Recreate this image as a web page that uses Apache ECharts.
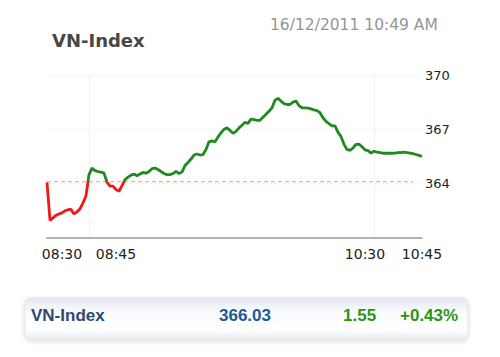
<!DOCTYPE html>
<html>
<head>
<meta charset="utf-8">
<script src="https://cdn.jsdelivr.net/npm/echarts@6/dist/echarts.min.js"></script>
<style>
html,body{margin:0;padding:0;background:#fff;}
#chart{width:500px;height:357px;}
</style>
</head>
<body>
<div id="chart"></div>
<script>
// Index values, one sample per step along the session
const values = [
  364.07, 361.97, 362.11, 362.25, 362.33, 362.39, 362.50, 362.56, 362.58, 362.33,
  362.44, 362.61, 362.94, 363.33, 364.50, 364.86, 364.72, 364.67, 364.64, 364.58,
  364.08, 363.86, 363.86, 363.67, 363.58, 363.89, 364.22, 364.36, 364.47, 364.53,
  364.44, 364.53, 364.62, 364.58, 364.67, 364.83, 364.86, 364.78, 364.67, 364.56,
  364.50, 364.50, 364.56, 364.68, 364.56, 364.64, 365.00, 365.17, 365.36, 365.58,
  365.64, 365.58, 365.61, 365.89, 366.31, 366.36, 366.31, 366.58, 366.81, 367.00,
  367.08, 366.94, 366.78, 366.89, 367.08, 367.23, 367.39, 367.33, 367.56, 367.53,
  367.50, 367.50, 367.67, 367.83, 368.00, 368.19, 368.61, 368.71, 368.56, 368.42,
  368.37, 368.37, 368.50, 368.56, 368.31, 368.18, 368.18, 368.17, 368.13, 368.07,
  368.03, 367.92, 367.64, 367.44, 367.31, 367.19, 367.19, 366.83, 366.61, 366.17,
  365.89, 365.84, 365.97, 366.17, 366.18, 366.04, 365.87, 365.83, 365.69, 365.79,
  365.74, 365.71, 365.68, 365.68, 365.68, 365.68, 365.69, 365.71, 365.72, 365.74,
  365.72, 365.69, 365.66, 365.61, 365.56, 365.50
];
const categories = values.map((v, i) => String(i));
const tickIndex = [5, 23, 106, 125];
const tickLabels = ['08:30', '08:45', '10:30', '10:45'];
const gridIndex = [14, 109];
const refValue = 364.11;       // previous-close reference level
const refSpan = [0, 122];      // category range covered by the reference line
const yTicks = [364, 367, 370];
const titleText = 'VN-Index';
const dateText = '16/12/2011 10:49 AM';
const summary = ['VN-Index', '366.03', '1.55', '+0.43%'];

const chart = echarts.init(document.getElementById('chart'), null, {renderer: 'svg'});
const GREEN = '#1f8a1f', RED = '#f01818', REF = '#f8b676';
chart.setOption({
  animation: false,
  backgroundColor: '#ffffff',
  grid: {left: 47, right: 78, top: 75, bottom: 119, containLabel: false},
  xAxis: {
    type: 'category',
    data: categories,
    boundaryGap: false,
    axisLine: {show: true, lineStyle: {color: '#9a9a9a', width: 1.5}},
    axisTick: {show: false},
    splitLine: {show: true, interval: (i) => gridIndex.includes(i), lineStyle: {color: '#f1f1f1', width: 1}},
    axisLabel: {
      interval: (i) => tickIndex.includes(i),
      formatter: (v) => { const k = tickIndex.indexOf(Number(v)); return k >= 0 ? tickLabels[k] : ''; },
      color: '#222', fontSize: 14, fontFamily: 'DejaVu Sans', margin: 9
    }
  },
  yAxis: {
    type: 'value',
    position: 'right',
    min: 361, max: 370, interval: 3,
    axisLine: {show: false},
    axisTick: {show: false},
    splitLine: {show: true, lineStyle: {color: '#efefef', type: 'dotted', width: 1}},
    axisLabel: {
      formatter: (v) => yTicks.includes(v) ? String(v) : '',
      color: '#222', fontSize: 13, fontFamily: 'DejaVu Sans', margin: 3, align: 'left'
    }
  },
  visualMap: {
    show: false, type: 'piecewise', dimension: 1, seriesIndex: 0,
    pieces: [{gte: 350, lte: refValue, color: RED}, {gt: refValue, lte: 380, color: GREEN}]
  },
  series: [{
    type: 'line',
    data: values,
    showSymbol: false,
    symbol: 'none',
    smooth: false,
    lineStyle: {width: 2.8},
    z: 3
  }, {
    type: 'line',
    data: refSpan.map((c) => [c, refValue]),
    symbol: 'none',
    showSymbol: false,
    color: REF,
    lineStyle: {color: REF, type: [4, 3], width: 1.3},
    z: 2
  }],
  graphic: [
    {type: 'text', left: 52, top: 31, style: {text: titleText, fill: '#474747', font: 'bold 18px "DejaVu Sans"'}},
    {type: 'text', left: 270, top: 17, style: {text: dateText, fill: '#959595', font: '15.5px "DejaVu Sans"'}},
    {type: 'rect', shape: {x: 25, y: 298, width: 443, height: 42, r: 6},
      style: {
        fill: new echarts.graphic.LinearGradient(0, 0, 0, 1, [
          {offset: 0, color: '#e3e9f1'}, {offset: 0.35, color: '#fafbfd'},
          {offset: 0.75, color: '#ffffff'}, {offset: 1, color: '#e6ecf3'}
        ]),
        stroke: '#dfe5ed', lineWidth: 1,
        shadowBlur: 4, shadowColor: 'rgba(0,0,0,0.15)', shadowOffsetY: 1
      }},
    {type: 'text', left: 31, top: 307, style: {text: summary[0], fill: '#2d4a6e', font: 'bold 17px "Liberation Sans"'}},
    {type: 'text', left: 219, top: 307, style: {text: summary[1], fill: '#1b5a96', font: 'bold 17px "Liberation Sans"'}},
    {type: 'text', left: 343, top: 307, style: {text: summary[2], fill: '#2f9412', font: 'bold 17px "Liberation Sans"'}},
    {type: 'text', left: 400, top: 307, style: {text: summary[3], fill: '#2f9412', font: 'bold 17px "Liberation Sans"'}}
  ]
});
</script>
</body>
</html>
